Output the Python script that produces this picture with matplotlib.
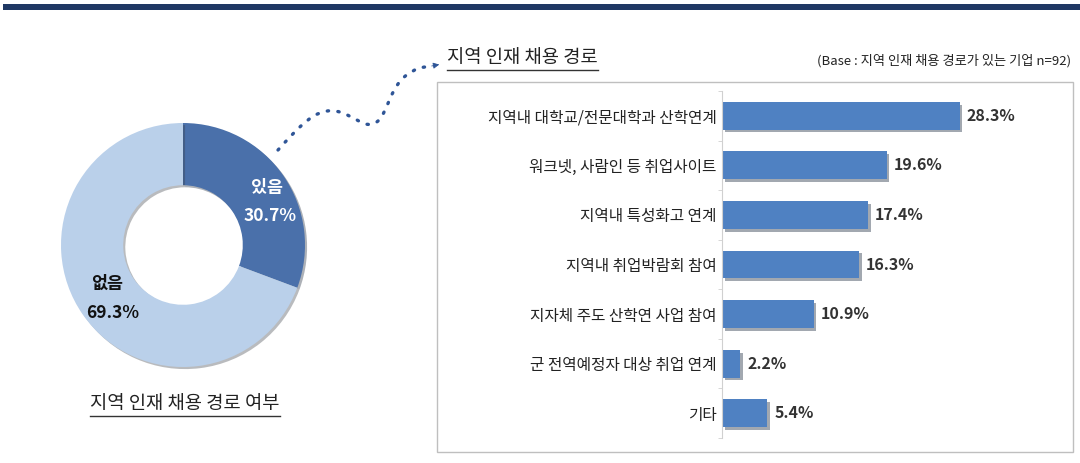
import matplotlib
matplotlib.use('Agg')
import matplotlib.pyplot as plt
from matplotlib.patches import Rectangle, PathPatch, FancyArrowPatch
from matplotlib.path import Path
from matplotlib.lines import Line2D
import matplotlib.patheffects as pe

plt.rcParams['font.family'] = ['Noto Sans CJK KR', 'DejaVu Sans']

W, H = 1080, 463

# 지역 인재 채용 경로 여부
has_labels = ['있음', '없음']
has_values = [30.7, 69.3]

# 지역 인재 채용 경로
route_labels = ['지역내 대학교/전문대학과 산학연계', '워크넷, 사람인 등 취업사이트',
                '지역내 특성화고 연계', '지역내 취업박람회 참여',
                '지자체 주도 산학연 사업 참여', '군 전역예정자 대상 취업 연계', '기타']
route_values = [28.3, 19.6, 17.4, 16.3, 10.9, 2.2, 5.4]

DARK = '#4A70AA'
LIGHT = '#BAD0EA'
BAR = '#4F81C2'


def fx(x):
    return x / W


def fy(y):
    return 1 - y / H


def px_axes(fig, x0, y0, x1, y1):
    return fig.add_axes([fx(x0), fy(y1), (x1 - x0) / W, (y1 - y0) / H])


def underline(fig, txt, pad=2, color='#333333'):
    fig.canvas.draw()
    bb = txt.get_window_extent()
    fw = fig.dpi * fig.get_figwidth()
    fh = fig.dpi * fig.get_figheight()
    y = (bb.y0 - pad) / fh
    fig.add_artist(Line2D([bb.x0 / fw, bb.x1 / fw], [y, y], transform=fig.transFigure,
                          color=color, lw=1))


fig = plt.figure(figsize=(W / 100, H / 100), dpi=100)

# top navy rule
fig.add_artist(Rectangle((fx(3), fy(10)), 1, 6 / H, transform=fig.transFigure,
                         color='#1F3864', lw=0))

# ---- donut ----
cx, cy, r = 183, 245, 122
m = 8
ax1 = px_axes(fig, cx - r - m, cy - r - m, cx + r + m, cy + r + m)
wedges, _ = ax1.pie(has_values, colors=[DARK, LIGHT], startangle=90, counterclock=False,
                    radius=1, wedgeprops=dict(width=0.51, edgecolor='none'))
for w in wedges:
    w.set_path_effects([pe.SimplePatchShadow(offset=(1.5, -1.5), alpha=0.35), pe.Normal()])
lim = (r + m) / r
ax1.set_xlim(-lim, lim)
ax1.set_ylim(-lim, lim)
ax1.set_aspect('equal')
ax1.axis('off')

ax1.text(0.69, 0.47, has_labels[0], color='white', fontsize=12.5, fontweight='bold',
         ha='center', va='center')
ax1.text(0.71, 0.24, f'{has_values[0]}%', color='white', fontsize=12.5, fontweight='bold',
         ha='center', va='center')
ax1.text(-0.62, -0.32, has_labels[1], color='#111111', fontsize=12.5, fontweight='bold',
         ha='center', va='center')
ax1.text(-0.58, -0.56, f'{has_values[1]}%', color='#111111', fontsize=12.5, fontweight='bold',
         ha='center', va='center')

cap = fig.text(fx(185), fy(403), '지역 인재 채용 경로 여부', fontsize=13.5, color='#222222',
               ha='center', va='center')

# ---- dotted connector ----
pts = [(278, 150), (298, 128), (315, 108), (335, 111),
       (355, 114), (365, 132), (378, 121),
       (388, 112), (390, 86), (408, 74),
       (418, 68), (425, 67), (430, 66)]
codes = [Path.MOVETO] + [Path.CURVE4] * 9 + [Path.LINETO] * 3
verts = [(fx(x), fy(y)) for x, y in pts]
fig.add_artist(PathPatch(Path(verts, codes), transform=fig.transFigure, fill=False,
                         edgecolor='#2F5597', lw=2.4, linestyle=(0, (0.4, 2.8)),
                         capstyle='round'))
fig.add_artist(FancyArrowPatch((fx(429), fy(66.5)), (fx(442), fy(64)),
                               transform=fig.transFigure, arrowstyle='-|>',
                               mutation_scale=9, color='#2F5597', lw=0.6))

# ---- bar panel ----
fig.add_artist(Rectangle((fx(437), fy(452)), (1073 - 437) / W, (452 - 82) / H,
                         transform=fig.transFigure, fill=False, edgecolor='#BFBFBF', lw=1))
ttl = fig.text(fx(447), fy(57), '지역 인재 채용 경로', fontsize=13.5, color='#222222',
               ha='left', va='center')
fig.text(fx(1071), fy(61), '(Base : 지역 인재 채용 경로가 있는 기업 n=92)', fontsize=9.5,
         color='#222222', ha='right', va='center')

ax2 = px_axes(fig, 722, 91, 1058, 438)
ypos = list(range(len(route_values)))
bars = ax2.barh(ypos, route_values, height=0.56, color=BAR, edgecolor='none')
for b in bars:
    b.set_path_effects([pe.SimplePatchShadow(offset=(2, -2), alpha=0.4), pe.Normal()])
for yv, v in zip(ypos, route_values):
    ax2.annotate(f'{v}%', (v, yv), xytext=(5, 0), textcoords='offset points',
                 ha='left', va='center', fontsize=11.5, fontweight='bold', color='#333333')
ax2.set_xlim(0, 40)
ax2.set_ylim(len(route_values) - 0.5, -0.5)
ax2.set_yticks(ypos)
ax2.set_yticklabels(route_labels, fontsize=11.3, color='#222222')
ax2.set_yticks([i - 0.5 for i in range(len(route_values) + 1)], minor=True)
ax2.tick_params(axis='y', which='major', length=0, pad=4)
ax2.tick_params(axis='y', which='minor', length=3, color='#D0D0D0', direction='out')
ax2.set_xticks([])
for s in ['top', 'right', 'bottom']:
    ax2.spines[s].set_visible(False)
ax2.spines['left'].set_color('#D0D0D0')
ax2.patch.set_alpha(0)

underline(fig, cap)
underline(fig, ttl)

fig.savefig('out.png', dpi=100, facecolor='white')
